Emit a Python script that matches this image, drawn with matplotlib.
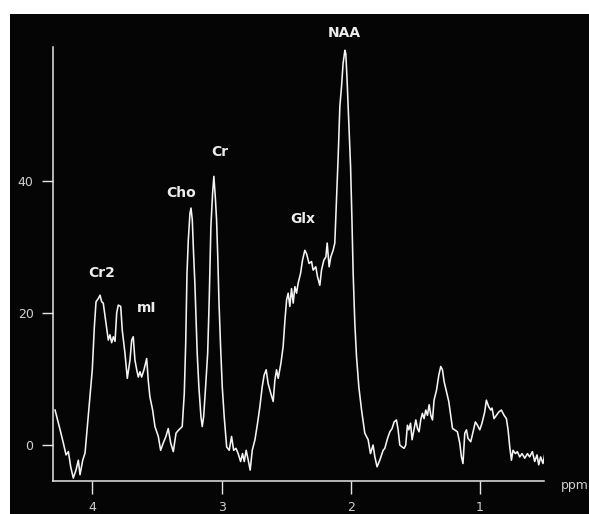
import matplotlib
matplotlib.use("Agg")
import matplotlib.pyplot as plt
from matplotlib.patches import Rectangle

# Chemical shift (ppm) and signal intensity
ppm = [4.289, 4.25, 4.225, 4.204, 4.186, 4.168, 4.148, 4.127, 4.109, 4.096, 4.075, 4.057, 4.039, 4.019,
       4.001, 3.985, 3.972, 3.954, 3.941, 3.928, 3.916, 3.895, 3.877, 3.864, 3.851, 3.838, 3.825, 3.812,
       3.800, 3.781, 3.769, 3.748, 3.730, 3.709, 3.696, 3.684, 3.671, 3.657, 3.645, 3.632, 3.619, 3.601,
       3.580, 3.568, 3.555, 3.534, 3.516, 3.490, 3.472, 3.452, 3.431, 3.413, 3.394, 3.374, 3.353, 3.336,
       3.305, 3.289, 3.278, 3.268, 3.258, 3.245, 3.237, 3.227, 3.217, 3.207, 3.199, 3.189, 3.176, 3.160,
       3.150, 3.139, 3.124, 3.108, 3.096, 3.083, 3.070, 3.060, 3.049, 3.039, 3.029, 3.021, 3.008, 2.995,
       2.980, 2.961, 2.941, 2.923, 2.907, 2.889, 2.872, 2.853, 2.838, 2.825, 2.810, 2.794, 2.779, 2.763,
       2.742, 2.722, 2.704, 2.686, 2.671, 2.655, 2.640, 2.619, 2.601, 2.588, 2.575, 2.562, 2.541, 2.524,
       2.510, 2.497, 2.485, 2.472, 2.459, 2.446, 2.433, 2.420, 2.408, 2.389, 2.374, 2.356, 2.343, 2.323,
       2.304, 2.292, 2.271, 2.258, 2.240, 2.227, 2.209, 2.193, 2.183, 2.168, 2.155, 2.137, 2.124, 2.111,
       2.098, 2.085, 2.072, 2.060, 2.046, 2.039, 2.029, 2.015, 2.002, 1.992, 1.982, 1.969, 1.956, 1.938,
       1.917, 1.892, 1.866, 1.848, 1.828, 1.814, 1.797, 1.776, 1.750, 1.737, 1.716, 1.698, 1.681, 1.665,
       1.647, 1.634, 1.621, 1.603, 1.588, 1.575, 1.562, 1.551, 1.538, 1.526, 1.510, 1.497, 1.484, 1.472,
       1.459, 1.446, 1.433, 1.420, 1.407, 1.394, 1.381, 1.368, 1.356, 1.337, 1.319, 1.304, 1.291, 1.278,
       1.260, 1.242, 1.227, 1.213, 1.196, 1.175, 1.157, 1.144, 1.132, 1.118, 1.105, 1.093, 1.072, 1.054,
       1.036, 1.020, 1.002, 0.985, 0.964, 0.951, 0.933, 0.917, 0.907, 0.892, 0.873, 0.855, 0.835, 0.814,
       0.796, 0.783, 0.770, 0.757, 0.745, 0.726, 0.711, 0.693, 0.675, 0.654, 0.633, 0.616, 0.595, 0.577,
       0.559, 0.546, 0.531, 0.513, 0.500]
intensity = [5.3, 2.3, 0.3, -1.5, -1.0, -3.3, -5.0, -3.8, -2.3, -4.5, -2.3, -1.2, 2.8, 7.3,
             11.4, 17.9, 21.7, 22.2, 22.7, 21.7, 21.5, 18.5, 15.9, 16.7, 15.5, 16.4, 15.7, 20.0,
             21.2, 21.0, 17.4, 13.9, 10.1, 12.9, 15.9, 16.4, 12.9, 11.4, 10.3, 11.1, 10.3, 11.4,
             13.1, 9.8, 7.3, 5.3, 2.8, 1.3, -0.8, 0.3, 1.3, 2.5, 0.3, -1.0, 1.8, 2.2,
             2.8, 7.8, 15.4, 26.0, 31.0, 35.1, 35.9, 34.1, 29.0, 24.5, 20.0, 13.9, 8.8, 4.3,
             2.8, 4.3, 8.8, 13.9, 22.0, 33.1, 38.1, 40.7, 37.6, 34.1, 28.0, 22.0, 14.9, 8.8,
             4.3, -0.3, -0.8, 1.3, -0.8, -0.5, -1.3, -2.5, -1.3, -2.5, -0.8, -2.3, -3.8, -0.8,
             0.8, 3.3, 5.8, 8.8, 10.6, 11.4, 9.3, 7.8, 6.6, 9.8, 11.4, 10.1, 12.4, 14.9,
             18.9, 22.0, 23.0, 21.0, 23.7, 21.5, 24.0, 23.0, 24.5, 26.0, 28.0, 29.5, 29.0, 27.5,
             27.8, 26.5, 27.0, 25.5, 24.2, 26.5, 28.0, 28.5, 30.6, 27.0, 28.5, 29.5, 30.6, 37.1,
             43.7, 51.3, 54.3, 57.8, 59.8, 59.3, 55.3, 48.7, 42.2, 34.6, 26.0, 18.4, 13.4, 8.8,
             5.3, 1.8, 0.8, -1.3, 0.0, -1.8, -3.3, -2.3, -0.8, -0.5, 1.0, 2.0, 2.5, 3.5,
             3.8, 2.3, 0.0, -0.3, -0.5, 0.0, 3.0, 2.3, 3.3, 0.8, 2.5, 3.8, 2.5, 2.0,
             3.8, 4.8, 4.0, 5.3, 4.5, 6.1, 4.5, 3.8, 6.8, 8.3, 10.6, 11.9, 11.4, 9.6,
             8.1, 6.6, 4.5, 2.5, 2.3, 2.0, 0.3, -1.8, -2.8, 1.8, 2.3, 1.0, 0.5, 2.0,
             3.5, 3.0, 2.3, 3.3, 5.0, 6.8, 5.8, 5.3, 5.6, 4.0, 4.5, 5.0, 5.3, 4.5,
             4.0, 2.3, -0.3, -2.3, -0.8, -1.3, -1.0, -1.8, -1.3, -2.0, -1.3, -1.8, -1.0, -2.5,
             -1.5, -3.0, -1.8, -2.8, -1.5]

# Peak annotations
peak_names = ["Cr2", "mI", "Cho", "Cr", "Glx", "NAA"]
peak_ppm = [3.928, 3.580, 3.315, 3.013, 2.369, 2.054]
peak_val = [26.0, 20.7, 38.2, 44.4, 34.2, 62.4]

xticks = [4, 3, 2, 1]
yticks = [0, 20, 40]

W, H = 589, 514
fig = plt.figure(figsize=(W / 100, H / 100), dpi=100, facecolor="white")
bg = Rectangle((10 / W, 0), 1, (H - 14) / H, transform=fig.transFigure,
               facecolor="#050505", edgecolor="none", zorder=-10)
fig.patches.append(bg)

ax = fig.add_axes([53 / W, (H - 481) / H, (544 - 53) / W, (481 - 47) / H])
ax.set_zorder(1)
ax.patch.set_alpha(0)
ax.plot(ppm, intensity, color="#f4f4f4", lw=1.15)
ax.set_xlim(4.305, 0.505)
ax.set_ylim(-5.45, 60.3)

for s in ["top", "right"]:
    ax.spines[s].set_visible(False)
for s in ["left", "bottom"]:
    ax.spines[s].set_color("#e6e6e6")
    ax.spines[s].set_linewidth(1.1)

ax.set_xticks(xticks)
ax.set_yticks(yticks)
ax.tick_params(axis="x", direction="out", length=9.5, width=1.0, color="#e6e6e6",
               labelcolor="#d0d0d0", labelsize=9, pad=5)
ax.tick_params(axis="y", direction="out", length=8, width=1.0, color="#e6e6e6",
               labelcolor="#d0d0d0", labelsize=9, pad=6)

for name, px, pv in zip(peak_names, peak_ppm, peak_val):
    ax.text(px, pv, name, color="#ececec", fontsize=10, fontweight="bold",
            ha="center", va="center", clip_on=False)

fig.text(561 / W, (H - 486) / H, "ppm", color="#d0d0d0", fontsize=9, ha="left", va="center",
         zorder=2)

fig.savefig("out.png", dpi=100, facecolor="white")
